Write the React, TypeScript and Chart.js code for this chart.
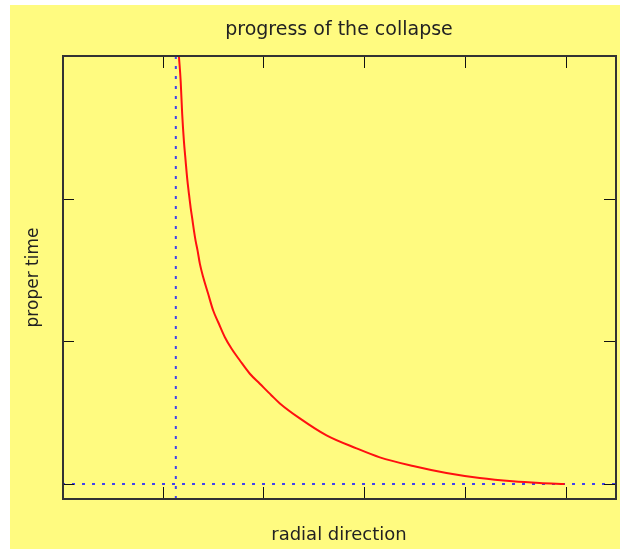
import React, { useEffect, useRef } from "react";
import { Chart, registerables } from "chart.js";

Chart.register(...registerables);

// Curve: radial position vs proper time
const curveR = [1.161, 1.178, 1.193, 1.21, 1.227, 1.243, 1.26, 1.277, 1.293, 1.31, 1.326, 1.346, 1.369, 1.402, 1.451, 1.501, 1.551, 1.617, 1.684, 1.766, 1.865, 1.964, 2.08, 2.163, 2.361, 2.626, 2.924, 3.155, 3.486, 3.817, 4.147, 4.474, 4.742, 4.99];
const curveT = [2.995, 2.827, 2.596, 2.407, 2.267, 2.141, 2.036, 1.938, 1.861, 1.776, 1.706, 1.636, 1.543, 1.449, 1.333, 1.216, 1.134, 1.029, 0.948, 0.866, 0.773, 0.703, 0.621, 0.565, 0.46, 0.341, 0.25, 0.187, 0.126, 0.077, 0.042, 0.019, 0.007, 0.0];

const verticalLineR = [1.13, 1.13];
const verticalLineT = [-0.105, 3.0];
const horizontalLineR = [0, 5.5];
const horizontalLineT = [0, 0];

const xRange = [0, 5.5];
const yRange = [-0.105, 3.0];
const xTickValues = [1, 2, 3, 4, 5];
const yTickValues = [0, 1, 2];

const toPoints = (xs: number[], ys: number[]) => xs.map((x, i) => ({ x, y: ys[i] }));

const framePlugin = {
  id: "frameTicks",
  afterDatasetsDraw(chart: any) {
    const { ctx, chartArea } = chart;
    const { left, right, top, bottom } = chartArea;
    const xs = chart.scales.x;
    const ys = chart.scales.y;
    ctx.save();
    ctx.strokeStyle = "#111";
    ctx.lineWidth = 1;
    const len = 12;
    ctx.beginPath();
    xTickValues.forEach((v) => {
      const px = Math.round(xs.getPixelForValue(v)) + 0.5;
      ctx.moveTo(px, bottom);
      ctx.lineTo(px, bottom - len);
      ctx.moveTo(px, top);
      ctx.lineTo(px, top + len);
    });
    yTickValues.forEach((v) => {
      const py = Math.round(ys.getPixelForValue(v)) + 0.5;
      ctx.moveTo(left, py);
      ctx.lineTo(left + len, py);
      ctx.moveTo(right, py);
      ctx.lineTo(right - len, py);
    });
    ctx.stroke();
    ctx.strokeStyle = "#333";
    ctx.lineWidth = 2;
    ctx.strokeRect(left + 1, top, right - left - 1, bottom - top);
    ctx.restore();
  },
};

export default function App() {
  const ref = useRef<HTMLCanvasElement | null>(null);
  useEffect(() => {
    if (!ref.current) return;
    const family = "'DejaVu Sans', sans-serif";
    const chart = new Chart(ref.current, {
      type: "line",
      data: {
        datasets: [
          {
            data: toPoints(curveR, curveT),
            borderColor: "#ff1010",
            borderWidth: 2,
            pointRadius: 0,
            cubicInterpolationMode: "monotone",
            order: 0,
          },
          {
            data: toPoints(verticalLineR, verticalLineT),
            borderColor: "#4040f0",
            borderWidth: 2,
            borderDash: [3, 7],
            pointRadius: 0,
            order: 1,
          },
          {
            data: toPoints(horizontalLineR, horizontalLineT),
            borderColor: "#4040f0",
            borderWidth: 2,
            borderDash: [3, 7],
            pointRadius: 0,
            order: 1,
          },
        ],
      },
      options: {
        animation: false,
        responsive: false,
        layout: { padding: { left: 0, top: 0, right: 4, bottom: 0 } },
        plugins: {
          legend: { display: false },
          tooltip: { enabled: false },
          title: { display: false },
        },
        scales: {
          x: {
            type: "linear",
            min: xRange[0],
            max: xRange[1],
            grid: { display: false },
            border: { display: false },
            ticks: { display: false },
            afterBuildTicks: (s: any) => {
              s.ticks = xTickValues.map((v) => ({ value: v }));
            },
            afterFit: (s: any) => {
              s.height = 50;
            },
            title: {
              display: true,
              text: "radial direction",
              color: "#222",
              font: { family, size: 18, weight: "normal" },
              padding: { top: 0, bottom: 3 },
            },
          },
          xTop: {
            type: "linear",
            position: "top",
            min: xRange[0],
            max: xRange[1],
            grid: { display: false },
            border: { display: false },
            ticks: { display: false },
            afterFit: (s: any) => {
              s.height = 51;
            },
            title: {
              display: true,
              text: "progress of the collapse",
              color: "#222",
              font: { family, size: 19, weight: "normal" },
              padding: { top: 14, bottom: 0 },
            },
          },
          y: {
            type: "linear",
            min: yRange[0],
            max: yRange[1],
            grid: { display: false },
            border: { display: false },
            ticks: { display: false },
            afterBuildTicks: (s: any) => {
              s.ticks = yTickValues.map((v) => ({ value: v }));
            },
            afterFit: (s: any) => {
              s.width = 52;
            },
            title: {
              display: true,
              text: "proper time",
              color: "#222",
              font: { family, size: 17, weight: "normal" },
              padding: { top: 13, bottom: 0 },
            },
          },
        },
      },
      plugins: [framePlugin],
    });
    return () => chart.destroy();
  }, []);

  return (
    <div
      style={{
        position: "absolute",
        left: 10,
        top: 5,
        width: 610,
        height: 544,
        background: "#fffb80",
      }}
    >
      <canvas ref={ref} width={610} height={544} style={{ display: "block" }} />
    </div>
  );
}
